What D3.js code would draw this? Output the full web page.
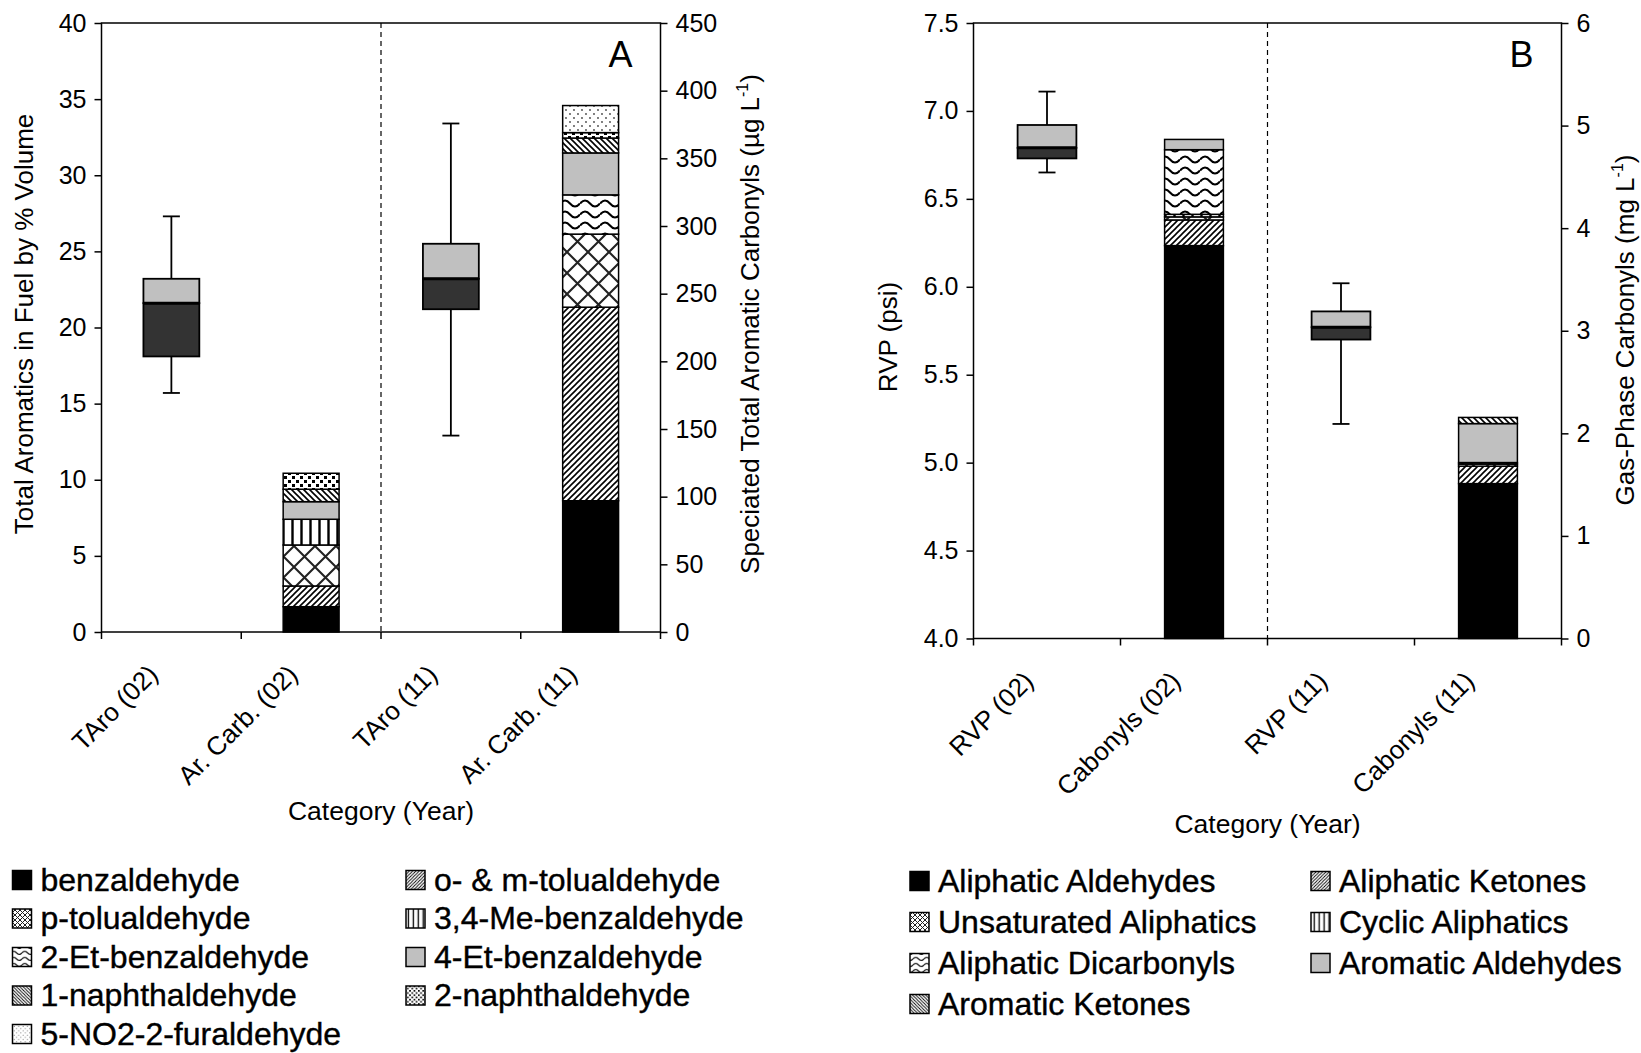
<!DOCTYPE html>
<html lang="en">
<head>
<meta charset="UTF-8">
<title>Aromatics and carbonyls</title>
<script src="https://cdn.jsdelivr.net/npm/d3@7"></script>
<style>
  html, body { margin: 0; background: #fff; }
  svg { display: block; font-family: "Liberation Sans", Arial, sans-serif; }
  .tick text { font-size: 25px; fill: #000; }
  .tick line { stroke: #000; stroke-width: 1.5; }
</style>
</head>
<body>
<div id="vis"></div>
<script>
// ---- data ----
var catsA = ["TAro (02)", "Ar. Carb. (02)", "TAro (11)", "Ar. Carb. (11)"];
var aroSpecies = ["benzaldehyde", "o- & m-tolualdehyde", "p-tolualdehyde", "3,4-Me-benzaldehyde",
  "2-Et-benzaldehyde", "4-Et-benzaldehyde", "1-naphthaldehyde", "2-naphthaldehyde", "5-NO2-2-furaldehyde"];
var arCarb02 = [18.7, 15.3, 30.3, 19, 0, 13, 9.2, 11.8, 0];     // µg/L
var arCarb11 = [97, 143, 54, 0, 29, 31, 11, 4, 20];              // µg/L
var taro02 = [15.7, 18.1, 21.6, 23.2, 27.3];   // min, q1, median, q3, max (% vol)
var taro11 = [12.9, 21.2, 23.2, 25.5, 33.4];

var catsB = ["RVP (02)", "Cabonyls (02)", "RVP (11)", "Cabonyls (11)"];
var carbGroups = ["Aliphatic Aldehydes", "Aliphatic Ketones", "Unsaturated Aliphatics", "Cyclic Aliphatics",
  "Aliphatic Dicarbonyls", "Aromatic Aldehydes", "Aromatic Ketones"];
var carb02 = [3.83, 0.25, 0.03, 0.025, 0.63, 0.10, 0];          // mg/L
var carb11 = [1.51, 0.17, 0.02, 0.015, 0, 0.38, 0.06];
var rvp02 = [6.65, 6.73, 6.79, 6.92, 7.11];    // psi
var rvp11 = [5.22, 5.70, 5.77, 5.86, 6.02];

// fill style for each stacked series, in order
var aroFills = ["solid", "diag", "cross", "vert", "wave", "gray", "back", "dense", "sparse"];
var carbFills = ["solid", "diag", "cross", "vert", "wave", "gray", "back"];

var W = 1641, H = 1053;
var svg = d3.select("#vis").append("svg").attr("width", W).attr("height", H);
var defs = svg.append("defs");

function addPatterns(sfx, k, cs) {
  function pat(id, w, h) {
    var p = defs.append("pattern").attr("id", id + sfx).attr("patternUnits", "userSpaceOnUse")
      .attr("width", w).attr("height", h);
    p.append("rect").attr("width", w).attr("height", h).attr("fill", "#fff");
    return p;
  }
  var d = 6 * k;
  pat("diag", d, d).append("path")
    .attr("d", "M0," + d + "L" + d + ",0M" + (-d / 4) + "," + (d / 4) + "L" + (d / 4) + "," + (-d / 4) +
      "M" + (d * 0.75) + "," + (d * 1.25) + "L" + (d * 1.25) + "," + (d * 0.75))
    .attr("stroke", "#000").attr("stroke-width", 1.6 * k);
  pat("back", d, d).append("path")
    .attr("d", "M0,0L" + d + "," + d + "M" + (d * 0.75) + "," + (-d / 4) + "L" + (d * 1.25) + "," + (d / 4) +
      "M" + (-d / 4) + "," + (d * 0.75) + "L" + (d / 4) + "," + (d * 1.25))
    .attr("stroke", "#000").attr("stroke-width", 1.6 * k);
  pat("cross", cs, cs).append("path")
    .attr("d", "M0,0L" + cs + "," + cs + "M" + cs + ",0L0," + cs)
    .attr("stroke", "#222").attr("stroke-width", Math.max(1, cs / 10));
  var v = 9 * k;
  pat("vert", v, v).append("rect").attr("x", v / 2 - 1.2 * k).attr("width", 2.4 * k).attr("height", v).attr("fill", "#000");
  var pw = 20 * k, ph = 11 * k;
  pat("wave", pw, ph).append("path")
    .attr("d", "M0," + ph / 2 + "Q" + pw / 4 + "," + (ph / 2 - 6 * k) + " " + pw / 2 + "," + ph / 2 +
      "T" + pw + "," + ph / 2)
    .attr("fill", "none").attr("stroke", "#000").attr("stroke-width", 2 * k);
  var g = 8 * k;
  var dn = pat("dense", g, g);
  dn.append("rect").attr("width", 3 * k).attr("height", 3 * k).attr("fill", "#000");
  dn.append("rect").attr("x", g / 2).attr("y", g / 2).attr("width", 3 * k).attr("height", 3 * k).attr("fill", "#000");
  var sp = pat("sparse", g, g);
  sp.append("circle").attr("cx", 2 * k).attr("cy", 2 * k).attr("r", 0.9 * k).attr("fill", "#444");
  sp.append("circle").attr("cx", 6 * k).attr("cy", 6 * k).attr("r", 0.9 * k).attr("fill", "#444");
}
addPatterns("", 1, 21);
addPatterns("L", 0.55, 5);

function fillFor(kind, sfx) {
  if (kind === "solid") return "#000";
  if (kind === "gray") return "#c0c0c0";
  return "url(#" + kind + sfx + ")";
}

function drawPanel(o) {
  var g = svg.append("g");
  var x = d3.scaleBand().domain(o.cats).range([o.x0, o.x1]).paddingInner(0.6).paddingOuter(0.3);
  var yL = d3.scaleLinear().domain(o.leftDomain).range([o.yBot, o.yTop]);
  var yR = d3.scaleLinear().domain(o.rightDomain).range([o.yBot, o.yTop]);

  // axes
  g.append("g").attr("transform", "translate(" + o.x0 + ",0)")
    .call(d3.axisLeft(yL).tickValues(o.leftTicks).tickFormat(o.leftFmt).tickSize(7).tickSizeOuter(0).tickPadding(8))
    .call(function (a) { a.select(".domain").remove(); a.selectAll("text").attr("font-family", null).attr("font-size", null); });
  g.append("g").attr("transform", "translate(" + o.x1 + ",0)")
    .call(d3.axisRight(yR).tickValues(o.rightTicks).tickFormat(d3.format("d")).tickSize(7).tickSizeOuter(0).tickPadding(8))
    .call(function (a) { a.select(".domain").remove(); a.selectAll("text").attr("font-family", null).attr("font-size", null); });

  // category boundary ticks on the bottom axis
  var step = x.step();
  g.selectAll(".xb").data(d3.range(o.cats.length + 1)).join("line")
    .attr("x1", function (i) { return o.x0 + i * step; }).attr("x2", function (i) { return o.x0 + i * step; })
    .attr("y1", o.yBot).attr("y2", o.yBot + 7).attr("stroke", "#000").attr("stroke-width", 1.5);

  // dashed separator between years
  g.append("line").attr("x1", o.x0 + 2 * step).attr("x2", o.x0 + 2 * step)
    .attr("y1", o.yTop).attr("y2", o.yBot)
    .attr("stroke", "#000").attr("stroke-width", 1.2).attr("stroke-dasharray", "5,4");

  // stacked bars (right axis)
  var rows = o.stackCats.map(function (c, i) {
    var r = { cat: c };
    o.keys.forEach(function (k, j) { r[k] = o.stackVals[i][j]; });
    return r;
  });
  var series = d3.stack().keys(o.keys)(rows);
  g.selectAll(".ser").data(series).join("g")
    .attr("fill", function (s, i) { return fillFor(o.fills[i], ""); })
    .selectAll("rect").data(function (s) { return s.filter(function (d) { return d[1] - d[0] > 0; }); })
    .join("rect")
    .attr("x", function (d) { return x(d.data.cat); })
    .attr("width", x.bandwidth())
    .attr("y", function (d) { return yR(d[1]); })
    .attr("height", function (d) { return yR(d[0]) - yR(d[1]); })
    .attr("stroke", "#000").attr("stroke-width", 1.5);

  // box plots (left axis)
  var cap = 8.5;
  o.boxes.forEach(function (b) {
    var s = b.stats, cx = x(b.cat) + x.bandwidth() / 2;
    var bg = g.append("g").attr("stroke", "#000").attr("stroke-width", 1.8);
    bg.append("line").attr("x1", cx).attr("x2", cx).attr("y1", yL(s[0])).attr("y2", yL(s[4]));
    bg.append("line").attr("x1", cx - cap).attr("x2", cx + cap).attr("y1", yL(s[0])).attr("y2", yL(s[0]));
    bg.append("line").attr("x1", cx - cap).attr("x2", cx + cap).attr("y1", yL(s[4])).attr("y2", yL(s[4]));
    bg.append("rect").attr("x", x(b.cat)).attr("width", x.bandwidth())
      .attr("y", yL(s[2])).attr("height", yL(s[1]) - yL(s[2])).attr("fill", "#333");
    bg.append("rect").attr("x", x(b.cat)).attr("width", x.bandwidth())
      .attr("y", yL(s[3])).attr("height", yL(s[2]) - yL(s[3])).attr("fill", "#c0c0c0");
    bg.append("line").attr("x1", x(b.cat)).attr("x2", x(b.cat) + x.bandwidth())
      .attr("y1", yL(s[2])).attr("y2", yL(s[2])).attr("stroke-width", 3);
  });

  // frame
  g.append("rect").attr("x", o.x0).attr("y", o.yTop).attr("width", o.x1 - o.x0).attr("height", o.yBot - o.yTop)
    .attr("fill", "none").attr("stroke", "#000").attr("stroke-width", 1.5);

  // category labels
  g.selectAll(".xl").data(o.cats).join("text")
    .attr("transform", function (c) { return "translate(" + (x(c) + x.bandwidth() / 2 - 12) + "," + (o.yBot + 44) + ") rotate(-45)"; })
    .attr("text-anchor", "end").attr("font-size", 26).text(function (c) { return c; });
  g.append("text").attr("x", (o.x0 + o.x1) / 2).attr("y", o.titleY).attr("text-anchor", "middle")
    .attr("font-size", 26.5).text("Category (Year)");

  // panel letter
  g.append("text").attr("x", o.x1 - 40).attr("y", o.yTop + 44).attr("text-anchor", "middle")
    .attr("font-size", 36).text(o.letter);

  // axis titles
  g.append("text").attr("transform", "translate(" + o.leftTitleX + "," + o.leftTitleY + ") rotate(-90)")
    .attr("text-anchor", "middle").attr("font-size", 26).text(o.leftTitle);
  var rt = g.append("text").attr("transform", "translate(" + o.rightTitleX + "," + o.rightTitleY + ") rotate(-90)")
    .attr("text-anchor", "middle").attr("font-size", 26);
  rt.append("tspan").text(o.rightTitle);
  rt.append("tspan").attr("font-size", 16).attr("dy", -11).text("-1");
  rt.append("tspan").attr("dy", 11).text(")");

  // legend
  o.keys.forEach(function (k, i) {
    var lx = o.legX[i % 2], ly = o.legY0 + Math.floor(i / 2) * o.legStep;
    g.append("rect").attr("x", lx).attr("y", ly - 9.5).attr("width", 19).attr("height", 19)
      .attr("fill", fillFor(o.fills[i], "L")).attr("stroke", "#000").attr("stroke-width", 1.5);
    g.append("text").attr("x", lx + 28).attr("y", ly + 10.5).attr("font-size", 32)
      .attr("stroke", "#000").attr("stroke-width", 0.4).text(k);
  });
}

drawPanel({
  cats: catsA, x0: 101.5, x1: 660.5, yTop: 23, yBot: 632,
  leftDomain: [0, 40], leftTicks: d3.range(0, 41, 5), leftFmt: d3.format("d"),
  rightDomain: [0, 450], rightTicks: d3.range(0, 451, 50),
  keys: aroSpecies, fills: aroFills,
  stackCats: ["Ar. Carb. (02)", "Ar. Carb. (11)"], stackVals: [arCarb02, arCarb11],
  boxes: [{ cat: "TAro (02)", stats: taro02 }, { cat: "TAro (11)", stats: taro11 }],
  titleY: 820, letter: "A",
  leftTitle: "Total Aromatics in Fuel by % Volume", leftTitleX: 33, leftTitleY: 324,
  rightTitle: "Speciated Total Aromatic Carbonyls (µg L", rightTitleX: 759, rightTitleY: 324,
  legX: [12.5, 406], legY0: 880, legStep: 38.5
});

drawPanel({
  cats: catsB, x0: 973.5, x1: 1561.5, yTop: 23, yBot: 638.5,
  leftDomain: [4, 7.5], leftTicks: d3.range(4, 7.51, 0.5), leftFmt: d3.format(".1f"),
  rightDomain: [0, 6], rightTicks: d3.range(0, 7, 1),
  keys: carbGroups, fills: carbFills,
  stackCats: ["Cabonyls (02)", "Cabonyls (11)"], stackVals: [carb02, carb11],
  boxes: [{ cat: "RVP (02)", stats: rvp02 }, { cat: "RVP (11)", stats: rvp11 }],
  titleY: 833, letter: "B",
  leftTitle: "RVP (psi)", leftTitleX: 897, leftTitleY: 337,
  rightTitle: "Gas-Phase Carbonyls (mg L", rightTitleX: 1634, rightTitleY: 330,
  legX: [910, 1311], legY0: 881, legStep: 41
});
</script>
</body>
</html>
